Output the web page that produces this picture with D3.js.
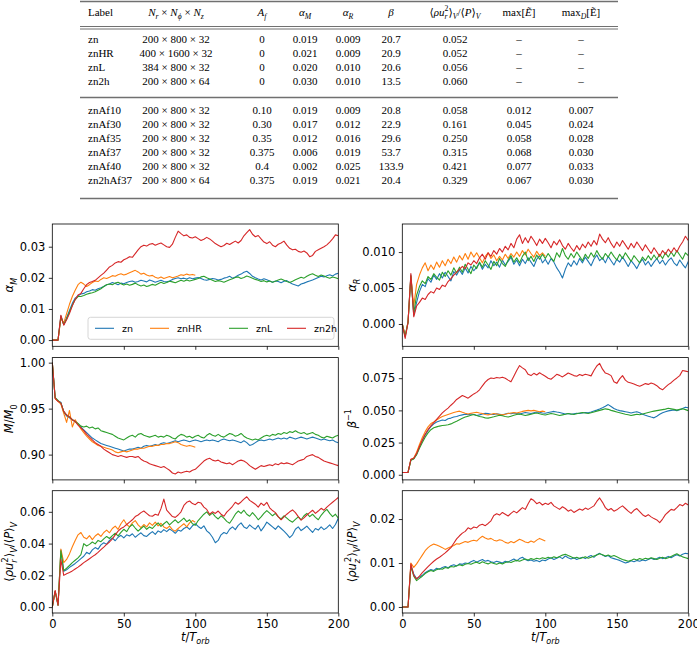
<!DOCTYPE html>
<html><head><meta charset="utf-8">
<script src="https://cdn.jsdelivr.net/npm/d3@7/dist/d3.min.js"></script>
<style>body{margin:0;background:#fff}svg{display:block}</style>
</head><body>
<svg id="fig" width="697" height="650"></svg>
<script>
// ---------------- DATA ----------------
const seriesNames = ["zn", "znHR", "znL", "zn2h"];
const timeFull = d3.range(0, 201, 2);   // t/T_orb sampling for zn, znL, zn2h
const timeHR = d3.range(0, 101, 2);     // t/T_orb sampling for znHR
const xTicks = [0, 50, 100, 150, 200];

// table
const tblLabel = ["zn","znHR","znL","zn2h","znAf10","znAf30","znAf35","znAf37","znAf40","zn2hAf37"];
const tblRes = ["200 × 800 × 32","400 × 1600 × 32","384 × 800 × 32","200 × 800 × 64","200 × 800 × 32","200 × 800 × 32","200 × 800 × 32","200 × 800 × 32","200 × 800 × 32","200 × 800 × 64"];
const tblAf = ["0","0","0","0","0.10","0.30","0.35","0.375","0.4","0.375"];
const tblAlphaM = ["0.019","0.021","0.020","0.030","0.019","0.017","0.012","0.006","0.002","0.019"];
const tblAlphaR = ["0.009","0.009","0.010","0.010","0.009","0.012","0.016","0.019","0.025","0.021"];
const tblBeta = ["20.7","20.9","20.6","13.5","20.8","22.9","29.6","53.7","133.9","20.4"];
const tblRur = ["0.052","0.052","0.056","0.060","0.058","0.161","0.250","0.315","0.421","0.329"];
const tblMaxE = ["–","–","–","–","0.012","0.045","0.058","0.068","0.077","0.067"];
const tblMaxDE = ["–","–","–","–","0.007","0.024","0.028","0.030","0.033","0.030"];

// alpha_M
const ticksAlphaM = [0, 0.01, 0.02, 0.03];
const alphaM_zn = [0,0,0,0.0078,0.0050,0.0072,0.0095,0.0118,0.0135,0.0142,
0.0148,0.0150,0.0155,0.0158,0.0162,0.0160,0.0165,0.0168,0.0172,0.0178,
0.0180,0.0185,0.0182,0.0178,0.0183,0.0181,0.0185,0.0188,0.0190,0.0186,
0.0188,0.0192,0.0190,0.0187,0.0193,0.0190,0.0186,0.0189,0.0192,0.0188,
0.0187,0.0190,0.0195,0.0198,0.0200,0.0197,0.0199,0.0196,0.0200,0.0197,
0.0199,0.0201,0.0198,0.0194,0.0192,0.0195,0.0198,0.0196,0.0193,0.0195,
0.0199,0.0201,0.0205,0.0199,0.0203,0.0208,0.0212,0.0218,0.0221,0.0214,
0.0205,0.0200,0.0196,0.0193,0.0197,0.0194,0.0190,0.0186,0.0190,0.0188,
0.0184,0.0189,0.0191,0.0185,0.0180,0.0177,0.0174,0.0180,0.0183,0.0187,
0.0190,0.0193,0.0197,0.0201,0.0205,0.0203,0.0207,0.0210,0.0206,0.0212,
0.0215];
const alphaM_znL = [0,0,0,0.0075,0.0050,0.0068,0.0090,0.0112,0.0130,0.0140,
0.0140,0.0143,0.0147,0.0150,0.0152,0.0155,0.0160,0.0165,0.0172,0.0178,
0.0180,0.0178,0.0183,0.0186,0.0181,0.0177,0.0180,0.0176,0.0179,0.0183,
0.0178,0.0174,0.0177,0.0172,0.0175,0.0179,0.0176,0.0181,0.0186,0.0182,
0.0185,0.0189,0.0187,0.0184,0.0188,0.0192,0.0189,0.0193,0.0190,0.0192,
0.0195,0.0198,0.0203,0.0205,0.0200,0.0196,0.0192,0.0188,0.0191,0.0189,
0.0186,0.0190,0.0194,0.0197,0.0201,0.0203,0.0198,0.0201,0.0206,0.0203,
0.0199,0.0195,0.0192,0.0188,0.0191,0.0187,0.0190,0.0186,0.0189,0.0193,
0.0196,0.0192,0.0188,0.0185,0.0189,0.0194,0.0198,0.0202,0.0199,0.0205,
0.0210,0.0213,0.0208,0.0204,0.0209,0.0206,0.0202,0.0199,0.0203,0.0200,
0.0197];
const alphaM_znHR = [0,0,0,0.0070,0.0055,0.0085,0.0115,0.0140,0.0160,0.0178,
0.0186,0.0180,0.0172,0.0178,0.0185,0.0190,0.0188,0.0195,0.0200,0.0198,
0.0202,0.0207,0.0205,0.0210,0.0213,0.0209,0.0212,0.0216,0.0220,0.0224,
0.0219,0.0212,0.0215,0.0209,0.0206,0.0208,0.0202,0.0199,0.0203,0.0198,
0.0201,0.0204,0.0200,0.0203,0.0206,0.0210,0.0208,0.0212,0.0209,0.0211,
0.0208];
const alphaM_zn2h = [0,0,0,0.0080,0.0048,0.0065,0.0085,0.0110,0.0130,0.0145,
0.0150,0.0165,0.0178,0.0185,0.0188,0.0192,0.0200,0.0208,0.0215,0.0225,
0.0235,0.0240,0.0248,0.0252,0.0250,0.0258,0.0262,0.0268,0.0266,0.0278,
0.0290,0.0300,0.0305,0.0302,0.0308,0.0310,0.0305,0.0309,0.0312,0.0306,
0.0300,0.0298,0.0308,0.0330,0.0350,0.0342,0.0335,0.0338,0.0330,0.0328,
0.0332,0.0326,0.0320,0.0324,0.0330,0.0325,0.0318,0.0310,0.0305,0.0300,
0.0304,0.0311,0.0307,0.0313,0.0318,0.0312,0.0320,0.0335,0.0345,0.0355,
0.0340,0.0332,0.0336,0.0325,0.0315,0.0310,0.0316,0.0305,0.0300,0.0308,
0.0312,0.0318,0.0305,0.0295,0.0290,0.0292,0.0285,0.0282,0.0286,0.0280,
0.0268,0.0272,0.0285,0.0290,0.0295,0.0300,0.0306,0.0315,0.0325,0.0338,
0.0335];

// alpha_R
const ticksAlphaR = [0, 0.005, 0.010];
const alphaR_zn = [0.0000,-0.0018,0.0003,0.0068,0.0012,0.0030,0.0045,0.0055,0.0052,0.0063,
0.0058,0.0068,0.0062,0.0070,0.0064,0.0072,0.0066,0.0060,0.0073,0.0068,
0.0075,0.0069,0.0078,0.0071,0.0080,0.0074,0.0079,0.0085,0.0076,0.0083,
0.0078,0.0088,0.0081,0.0086,0.0079,0.0089,0.0082,0.0087,0.0093,0.0083,
0.0089,0.0081,0.0090,0.0084,0.0092,0.0086,0.0080,0.0090,0.0095,0.0085,
0.0090,0.0083,0.0091,0.0086,0.0078,0.0072,0.0064,0.0076,0.0085,0.0080,
0.0088,0.0082,0.0091,0.0085,0.0093,0.0087,0.0081,0.0090,0.0096,0.0088,
0.0092,0.0085,0.0094,0.0088,0.0082,0.0090,0.0086,0.0093,0.0087,0.0080,
0.0088,0.0083,0.0077,0.0085,0.0090,0.0082,0.0087,0.0080,0.0086,0.0091,
0.0084,0.0089,0.0082,0.0088,0.0092,0.0085,0.0081,0.0089,0.0083,0.0078,
0.0087];
const alphaR_znL = [0.0000,-0.0017,0.0002,0.0066,0.0015,0.0040,0.0052,0.0060,0.0056,0.0066,
0.0062,0.0070,0.0065,0.0061,0.0072,0.0066,0.0074,0.0068,0.0078,0.0071,
0.0079,0.0072,0.0083,0.0076,0.0070,0.0082,0.0077,0.0086,0.0079,0.0088,
0.0082,0.0076,0.0087,0.0081,0.0091,0.0084,0.0080,0.0089,0.0095,0.0086,
0.0092,0.0085,0.0094,0.0100,0.0088,0.0094,0.0087,0.0096,0.0090,0.0097,
0.0091,0.0098,0.0092,0.0087,0.0099,0.0093,0.0105,0.0095,0.0090,0.0098,
0.0092,0.0100,0.0094,0.0088,0.0097,0.0091,0.0099,0.0093,0.0102,0.0095,
0.0090,0.0098,0.0093,0.0100,0.0094,0.0089,0.0097,0.0091,0.0099,0.0093,
0.0087,0.0095,0.0090,0.0085,0.0093,0.0088,0.0095,0.0089,0.0096,0.0090,
0.0097,0.0091,0.0099,0.0093,0.0100,0.0094,0.0102,0.0096,0.0090,0.0099,
0.0095];
const alphaR_znHR = [0.0000,-0.0016,0.0003,0.0067,0.0025,0.0055,0.0068,0.0078,0.0085,0.0074,
0.0082,0.0076,0.0086,0.0079,0.0088,0.0081,0.0090,0.0084,0.0093,0.0086,
0.0095,0.0089,0.0098,0.0090,0.0100,0.0093,0.0099,0.0092,0.0085,0.0094,
0.0099,0.0091,0.0096,0.0088,0.0094,0.0089,0.0097,0.0091,0.0098,0.0093,
0.0100,0.0094,0.0102,0.0096,0.0104,0.0098,0.0093,0.0101,0.0095,0.0099,
0.0094];
const alphaR_zn2h = [0.0000,-0.0020,0.0002,0.0070,0.0010,0.0025,0.0030,0.0036,0.0034,0.0041,
0.0045,0.0043,0.0050,0.0048,0.0054,0.0052,0.0059,0.0063,0.0068,0.0072,
0.0076,0.0080,0.0077,0.0085,0.0082,0.0088,0.0084,0.0092,0.0097,0.0090,
0.0099,0.0094,0.0102,0.0097,0.0105,0.0100,0.0108,0.0103,0.0112,0.0106,
0.0118,0.0124,0.0112,0.0120,0.0113,0.0122,0.0116,0.0109,0.0118,0.0112,
0.0119,0.0113,0.0106,0.0115,0.0110,0.0117,0.0109,0.0104,0.0112,0.0106,
0.0101,0.0109,0.0103,0.0111,0.0106,0.0114,0.0108,0.0116,0.0110,0.0125,
0.0118,0.0113,0.0120,0.0112,0.0106,0.0114,0.0108,0.0116,0.0110,0.0104,
0.0112,0.0106,0.0114,0.0108,0.0102,0.0110,0.0104,0.0098,0.0106,0.0100,
0.0094,0.0102,0.0097,0.0104,0.0099,0.0106,0.0100,0.0108,0.0114,0.0122,
0.0116];

// M/M0
const ticksMass = [0.90, 0.95, 1.00];
const mass_zn = [1.000,0.962,0.958,0.957,0.946,0.942,0.940,0.938,0.936,0.933,
0.930,0.927,0.924,0.921,0.918,0.916,0.914,0.912,0.911,0.910,
0.909,0.908,0.907,0.906,0.905,0.904,0.905,0.906,0.906,0.907,
0.908,0.907,0.909,0.910,0.909,0.910,0.911,0.910,0.912,0.913,
0.912,0.913,0.914,0.915,0.914,0.915,0.916,0.915,0.914,0.915,
0.916,0.915,0.914,0.915,0.916,0.915,0.916,0.915,0.914,0.916,
0.917,0.916,0.915,0.916,0.915,0.914,0.913,0.915,0.913,0.910,
0.911,0.913,0.915,0.916,0.915,0.916,0.917,0.916,0.917,0.918,
0.917,0.918,0.917,0.919,0.918,0.917,0.918,0.919,0.918,0.917,
0.918,0.919,0.918,0.917,0.916,0.917,0.916,0.915,0.916,0.914,
0.913];
const mass_znL = [1.000,0.962,0.959,0.956,0.947,0.943,0.941,0.938,0.936,0.934,
0.931,0.930,0.931,0.929,0.930,0.928,0.929,0.926,0.925,0.924,
0.923,0.922,0.920,0.918,0.917,0.916,0.918,0.920,0.921,0.919,
0.922,0.923,0.921,0.920,0.919,0.920,0.921,0.919,0.920,0.919,
0.921,0.920,0.918,0.917,0.920,0.922,0.921,0.919,0.920,0.918,
0.920,0.921,0.919,0.918,0.921,0.923,0.921,0.920,0.922,0.920,
0.919,0.921,0.923,0.922,0.920,0.921,0.923,0.920,0.918,0.917,
0.916,0.917,0.916,0.918,0.920,0.921,0.920,0.922,0.921,0.923,
0.922,0.924,0.923,0.925,0.924,0.926,0.924,0.923,0.924,0.922,
0.923,0.924,0.922,0.921,0.919,0.918,0.920,0.919,0.918,0.920,
0.921];
const mass_znHR = [1.000,0.961,0.958,0.955,0.945,0.935,0.948,0.930,0.938,0.933,
0.928,0.924,0.920,0.917,0.914,0.912,0.910,0.909,0.908,0.907,
0.906,0.905,0.903,0.902,0.903,0.904,0.903,0.904,0.905,0.906,
0.906,0.907,0.907,0.908,0.909,0.909,0.910,0.910,0.911,0.911,
0.912,0.912,0.913,0.914,0.913,0.911,0.910,0.909,0.910,0.909,
0.908];
const mass_zn2h = [1.000,0.961,0.958,0.956,0.947,0.943,0.941,0.938,0.936,0.932,
0.929,0.926,0.922,0.919,0.916,0.913,0.911,0.909,0.906,0.904,
0.902,0.900,0.899,0.898,0.899,0.898,0.897,0.898,0.898,0.897,
0.898,0.895,0.893,0.892,0.890,0.889,0.888,0.887,0.886,0.887,
0.885,0.883,0.880,0.879,0.881,0.880,0.881,0.882,0.881,0.883,
0.884,0.887,0.890,0.893,0.895,0.896,0.894,0.893,0.894,0.892,
0.891,0.890,0.891,0.889,0.891,0.893,0.894,0.893,0.891,0.888,
0.886,0.884,0.886,0.888,0.887,0.888,0.889,0.888,0.890,0.889,
0.891,0.890,0.891,0.890,0.889,0.891,0.893,0.894,0.895,0.898,
0.899,0.900,0.898,0.897,0.895,0.893,0.892,0.891,0.890,0.889,
0.888];

// beta^-1
const ticksBetaInv = [0, 0.025, 0.050, 0.075];
const betaInv_zn = [0.0018,0.0018,0.0018,0.0115,0.0125,0.0160,0.0215,0.0265,0.0310,0.0345,
0.0375,0.0395,0.0410,0.0418,0.0425,0.0422,0.0435,0.0440,0.0448,0.0452,
0.0460,0.0465,0.0470,0.0466,0.0472,0.0468,0.0460,0.0465,0.0472,0.0478,
0.0475,0.0470,0.0468,0.0474,0.0470,0.0465,0.0472,0.0478,0.0474,0.0480,
0.0476,0.0471,0.0478,0.0484,0.0480,0.0476,0.0482,0.0488,0.0485,0.0480,
0.0478,0.0483,0.0488,0.0492,0.0487,0.0483,0.0478,0.0472,0.0476,0.0470,
0.0474,0.0478,0.0476,0.0480,0.0484,0.0482,0.0488,0.0495,0.0502,0.0510,
0.0520,0.0532,0.0545,0.0530,0.0515,0.0505,0.0498,0.0494,0.0490,0.0486,
0.0480,0.0486,0.0490,0.0482,0.0470,0.0462,0.0455,0.0448,0.0442,0.0455,
0.0470,0.0482,0.0490,0.0496,0.0500,0.0504,0.0498,0.0505,0.0515,0.0525,
0.0520];
const betaInv_znL = [0.0018,0.0018,0.0018,0.0112,0.0122,0.0155,0.0205,0.0250,0.0292,0.0325,
0.0350,0.0365,0.0372,0.0378,0.0382,0.0385,0.0388,0.0395,0.0405,0.0415,
0.0428,0.0438,0.0448,0.0455,0.0462,0.0468,0.0460,0.0452,0.0448,0.0442,
0.0440,0.0445,0.0450,0.0456,0.0462,0.0458,0.0452,0.0448,0.0455,0.0462,
0.0468,0.0472,0.0466,0.0460,0.0465,0.0470,0.0476,0.0480,0.0474,0.0468,
0.0464,0.0470,0.0476,0.0472,0.0466,0.0460,0.0465,0.0470,0.0476,0.0472,
0.0468,0.0474,0.0480,0.0484,0.0480,0.0476,0.0482,0.0488,0.0494,0.0500,
0.0506,0.0512,0.0508,0.0500,0.0494,0.0488,0.0482,0.0476,0.0470,0.0466,
0.0460,0.0465,0.0470,0.0466,0.0472,0.0478,0.0484,0.0490,0.0494,0.0498,
0.0502,0.0506,0.0510,0.0516,0.0512,0.0508,0.0502,0.0508,0.0512,0.0506,
0.0498];
const betaInv_znHR = [0.0018,0.0018,0.0018,0.0118,0.0130,0.0175,0.0235,0.0290,0.0335,0.0372,
0.0398,0.0410,0.0425,0.0440,0.0452,0.0460,0.0468,0.0476,0.0484,0.0490,
0.0494,0.0485,0.0478,0.0472,0.0478,0.0482,0.0486,0.0480,0.0476,0.0468,
0.0465,0.0470,0.0476,0.0472,0.0468,0.0465,0.0470,0.0476,0.0480,0.0484,
0.0480,0.0486,0.0492,0.0496,0.0500,0.0496,0.0500,0.0495,0.0490,0.0494,
0.0490];
const betaInv_zn2h = [0.0018,0.0018,0.0018,0.0120,0.0128,0.0165,0.0220,0.0270,0.0315,0.0350,
0.0380,0.0405,0.0430,0.0455,0.0480,0.0500,0.0518,0.0540,0.0560,0.0585,
0.0600,0.0615,0.0605,0.0595,0.0612,0.0628,0.0640,0.0660,0.0690,0.0720,
0.0740,0.0752,0.0748,0.0756,0.0752,0.0758,0.0750,0.0735,0.0722,0.0765,
0.0810,0.0848,0.0830,0.0815,0.0780,0.0770,0.0788,0.0775,0.0792,0.0778,
0.0765,0.0750,0.0742,0.0760,0.0780,0.0772,0.0760,0.0775,0.0790,0.0780,
0.0770,0.0765,0.0778,0.0770,0.0780,0.0775,0.0768,0.0810,0.0845,0.0865,
0.0820,0.0790,0.0782,0.0770,0.0722,0.0710,0.0745,0.0770,0.0735,0.0718,
0.0712,0.0705,0.0695,0.0688,0.0698,0.0708,0.0702,0.0712,0.0705,0.0692,
0.0672,0.0660,0.0680,0.0700,0.0715,0.0735,0.0752,0.0770,0.0810,0.0805,
0.0800];

// <rho u_r^2>_V / <P>_V
const ticksRur = [0, 0.02, 0.04, 0.06];
const rur_zn = [0.0000,0.0100,0.0012,0.0360,0.0225,0.0235,0.0250,0.0262,0.0275,0.0290,
0.0305,0.0320,0.0345,0.0335,0.0360,0.0375,0.0365,0.0392,0.0405,0.0395,
0.0420,0.0435,0.0418,0.0440,0.0452,0.0436,0.0455,0.0448,0.0462,0.0440,
0.0455,0.0468,0.0450,0.0445,0.0462,0.0475,0.0458,0.0480,0.0470,0.0488,
0.0475,0.0492,0.0480,0.0465,0.0485,0.0478,0.0495,0.0505,0.0490,0.0512,
0.0525,0.0508,0.0495,0.0512,0.0480,0.0465,0.0440,0.0405,0.0420,0.0455,
0.0470,0.0462,0.0490,0.0505,0.0488,0.0515,0.0530,0.0505,0.0495,0.0518,
0.0502,0.0490,0.0515,0.0480,0.0505,0.0535,0.0520,0.0505,0.0490,0.0512,
0.0495,0.0478,0.0460,0.0438,0.0455,0.0490,0.0505,0.0482,0.0495,0.0510,
0.0490,0.0470,0.0495,0.0485,0.0505,0.0488,0.0500,0.0518,0.0495,0.0520,
0.0560];
const rur_znL = [0.0000,0.0100,0.0012,0.0355,0.0230,0.0245,0.0262,0.0280,0.0295,0.0310,
0.0330,0.0400,0.0385,0.0395,0.0410,0.0398,0.0420,0.0412,0.0430,0.0445,
0.0432,0.0450,0.0465,0.0448,0.0470,0.0490,0.0475,0.0505,0.0520,0.0498,
0.0478,0.0495,0.0510,0.0490,0.0505,0.0495,0.0515,0.0530,0.0508,0.0525,
0.0540,0.0518,0.0535,0.0550,0.0530,0.0545,0.0560,0.0538,0.0550,0.0525,
0.0515,0.0545,0.0565,0.0585,0.0600,0.0578,0.0592,0.0570,0.0555,0.0575,
0.0560,0.0540,0.0528,0.0555,0.0585,0.0605,0.0590,0.0610,0.0585,0.0572,
0.0595,0.0575,0.0550,0.0568,0.0590,0.0608,0.0592,0.0575,0.0590,0.0568,
0.0555,0.0575,0.0560,0.0545,0.0535,0.0552,0.0568,0.0550,0.0575,0.0590,
0.0570,0.0585,0.0565,0.0550,0.0578,0.0600,0.0615,0.0590,0.0570,0.0585,
0.0560];
const rur_znHR = [0.0000,0.0100,0.0012,0.0365,0.0280,0.0300,0.0335,0.0380,0.0420,0.0455,
0.0470,0.0440,0.0430,0.0450,0.0425,0.0448,0.0462,0.0445,0.0470,0.0485,
0.0468,0.0495,0.0510,0.0490,0.0525,0.0550,0.0520,0.0505,0.0530,0.0545,
0.0518,0.0500,0.0520,0.0505,0.0530,0.0515,0.0535,0.0512,0.0528,0.0505,
0.0495,0.0510,0.0488,0.0478,0.0495,0.0510,0.0525,0.0505,0.0530,0.0545,
0.0535];
const rur_zn2h = [0.0000,0.0105,0.0012,0.0300,0.0200,0.0210,0.0218,0.0228,0.0240,0.0252,
0.0265,0.0280,0.0292,0.0305,0.0318,0.0330,0.0345,0.0362,0.0378,0.0395,
0.0410,0.0430,0.0455,0.0478,0.0495,0.0505,0.0520,0.0535,0.0550,0.0570,
0.0580,0.0595,0.0605,0.0590,0.0575,0.0572,0.0585,0.0578,0.0620,0.0680,
0.0610,0.0590,0.0570,0.0565,0.0580,0.0600,0.0640,0.0660,0.0668,0.0652,
0.0645,0.0660,0.0655,0.0630,0.0615,0.0585,0.0600,0.0590,0.0605,0.0585,
0.0572,0.0598,0.0615,0.0635,0.0660,0.0648,0.0662,0.0680,0.0695,0.0672,
0.0660,0.0648,0.0630,0.0655,0.0640,0.0660,0.0625,0.0608,0.0595,0.0570,
0.0550,0.0568,0.0585,0.0600,0.0612,0.0595,0.0570,0.0548,0.0562,0.0580,
0.0595,0.0610,0.0590,0.0605,0.0622,0.0610,0.0630,0.0645,0.0660,0.0675,
0.0690];

// <rho u_z^2>_V / <P>_V
const ticksRuz = [0, 0.01, 0.02];
const ruz_zn = [0,0,0,0.0095,0.0075,0.0064,0.0068,0.0072,0.0078,0.0082,
0.0085,0.0083,0.0088,0.0086,0.0090,0.0092,0.0089,0.0094,0.0096,0.0093,
0.0098,0.0097,0.0100,0.0099,0.0103,0.0106,0.0102,0.0105,0.0108,0.0104,
0.0106,0.0103,0.0101,0.0104,0.0102,0.0100,0.0104,0.0102,0.0106,0.0109,
0.0105,0.0110,0.0113,0.0108,0.0105,0.0107,0.0104,0.0106,0.0103,0.0107,
0.0105,0.0109,0.0112,0.0108,0.0111,0.0114,0.0110,0.0116,0.0112,0.0109,
0.0112,0.0108,0.0111,0.0113,0.0110,0.0114,0.0117,0.0113,0.0119,0.0122,
0.0118,0.0115,0.0117,0.0112,0.0110,0.0108,0.0106,0.0103,0.0100,0.0102,
0.0105,0.0103,0.0106,0.0104,0.0107,0.0105,0.0108,0.0111,0.0108,0.0110,
0.0113,0.0110,0.0112,0.0115,0.0112,0.0116,0.0119,0.0116,0.0120,0.0122,
0.0121];
const ruz_znL = [0,0,0,0.0092,0.0070,0.0060,0.0065,0.0070,0.0076,0.0080,
0.0083,0.0081,0.0085,0.0087,0.0086,0.0090,0.0088,0.0092,0.0091,0.0094,
0.0096,0.0094,0.0097,0.0099,0.0097,0.0100,0.0102,0.0099,0.0103,0.0100,
0.0098,0.0101,0.0099,0.0097,0.0100,0.0098,0.0101,0.0103,0.0101,0.0104,
0.0106,0.0104,0.0107,0.0109,0.0107,0.0110,0.0108,0.0111,0.0109,0.0112,
0.0110,0.0113,0.0111,0.0114,0.0112,0.0115,0.0118,0.0120,0.0117,0.0114,
0.0111,0.0113,0.0110,0.0112,0.0114,0.0111,0.0113,0.0116,0.0118,0.0121,
0.0119,0.0116,0.0118,0.0115,0.0117,0.0114,0.0111,0.0108,0.0106,0.0104,
0.0106,0.0109,0.0107,0.0110,0.0108,0.0111,0.0109,0.0112,0.0110,0.0108,
0.0111,0.0113,0.0110,0.0112,0.0115,0.0118,0.0121,0.0117,0.0114,0.0112,
0.0110];
const ruz_znHR = [0,0,0,0.0100,0.0090,0.0098,0.0108,0.0118,0.0128,0.0135,
0.0140,0.0143,0.0141,0.0138,0.0135,0.0131,0.0134,0.0137,0.0140,0.0144,
0.0143,0.0146,0.0149,0.0147,0.0150,0.0152,0.0150,0.0156,0.0161,0.0157,
0.0154,0.0156,0.0152,0.0150,0.0153,0.0151,0.0147,0.0145,0.0149,0.0146,
0.0150,0.0154,0.0151,0.0148,0.0146,0.0150,0.0147,0.0152,0.0156,0.0153,
0.0150];
const ruz_zn2h = [0,0,0,0.0098,0.0072,0.0064,0.0070,0.0078,0.0085,0.0092,
0.0098,0.0104,0.0109,0.0113,0.0118,0.0123,0.0129,0.0135,0.0145,0.0155,
0.0162,0.0168,0.0172,0.0180,0.0177,0.0182,0.0180,0.0186,0.0188,0.0185,
0.0190,0.0196,0.0208,0.0212,0.0209,0.0215,0.0211,0.0207,0.0213,0.0218,
0.0214,0.0220,0.0226,0.0222,0.0235,0.0246,0.0242,0.0235,0.0238,0.0232,
0.0236,0.0233,0.0238,0.0230,0.0226,0.0222,0.0228,0.0224,0.0218,0.0221,
0.0215,0.0219,0.0223,0.0220,0.0225,0.0222,0.0226,0.0230,0.0240,0.0248,
0.0238,0.0226,0.0220,0.0224,0.0218,0.0221,0.0226,0.0230,0.0224,0.0218,
0.0213,0.0220,0.0224,0.0217,0.0210,0.0206,0.0210,0.0205,0.0201,0.0198,
0.0192,0.0200,0.0210,0.0216,0.0222,0.0220,0.0226,0.0233,0.0230,0.0236,
0.0232];

// ---------------- DRAWING ----------------
const svg = d3.select("#fig");
const SANS = "'DejaVu Sans', sans-serif";
const SERIF = "'Liberation Serif', 'DejaVu Serif', serif";
const colors = { zn: "#1f77b4", znHR: "#ff7f0e", znL: "#2ca02c", zn2h: "#d62728" };

function rich(sel, parts, size) {
  let cur = 0;
  parts.forEach(p => {
    const o = p[1] || {};
    const target = o.s === "sub" ? size * 0.28 : o.s === "sup" ? -size * 0.42 : 0;
    const ts = sel.append("tspan").text(p[0]).attr("dy", target - cur);
    if (o.s) ts.attr("font-size", size * 0.7);
    if (o.i) ts.attr("font-style", "italic");
    if (o.dx) ts.attr("dx", o.dx);
    cur = target;
  });
  return sel;
}

// ----- table -----
const tg = svg.append("g").attr("font-family", SERIF).attr("font-size", 11).attr("fill", "#000");
const tLeft = 80, tRight = 618;
const colX = [88, 176, 262, 305, 348, 391, 455, 519, 581];
const headers = [
  [["Label"]],
  [["N",{i:1}],["r",{i:1,s:"sub"}],[" × "],["N",{i:1}],["ϕ",{i:1,s:"sub"}],[" × "],["N",{i:1}],["z",{i:1,s:"sub"}]],
  [["A",{i:1}],["f",{i:1,s:"sub"}]],
  [["α",{i:1}],["M",{i:1,s:"sub"}]],
  [["α",{i:1}],["R",{i:1,s:"sub"}]],
  [["β",{i:1}]],
  [["⟨"],["ρ",{i:1}],["u",{i:1}],["r",{i:1,s:"sub"}],["2",{s:"sup",dx:-3}],["⟩"],["V",{i:1,s:"sub"}],["/⟨"],["P",{i:1}],["⟩"],["V",{i:1,s:"sub"}]],
  [["max["],["Ẽ",{i:1}],["]"]],
  [["max"],["D",{i:1,s:"sub"}],["[Ẽ]"]]
];
headers.forEach((h, j) => {
  const t = tg.append("text").attr("x", colX[j]).attr("y", 16)
    .attr("text-anchor", j === 0 ? "start" : "middle");
  rich(t, h, 11);
});
const rule = (y, w) => tg.append("line").attr("x1", tLeft).attr("x2", tRight)
  .attr("y1", y).attr("y2", y).attr("stroke", "#707070").attr("stroke-width", w);
rule(1.5, 1.6); rule(26.5, 1); rule(29, 1); rule(97.5, 1.4); rule(198.5, 1.6);
const cols = [tblLabel, tblRes, tblAf, tblAlphaM, tblAlphaR, tblBeta, tblRur, tblMaxE, tblMaxDE];
const rowY = [43, 57, 71, 85, 114, 128, 142, 156, 170, 184];
tblLabel.forEach((_, r) => {
  cols.forEach((c, j) => {
    tg.append("text").attr("x", colX[j]).attr("y", rowY[r])
      .attr("text-anchor", j === 0 ? "start" : "middle").text(c[r]);
  });
});

// ----- panels -----
const colLeft = [52.3, 402.3], pW = 286;
const rowTop = [224, 357.6, 490.7], pH = 122.3;
const x = d3.scaleLinear().domain([0, 200]).range([0, pW]);

const panels = [
  { c:0, r:0, dom:[-0.002, 0.0373], ticks:ticksAlphaM, fmt:".2f",
    data:{zn:alphaM_zn, znHR:alphaM_znHR, znL:alphaM_znL, zn2h:alphaM_zn2h},
    label:[["α",{i:1}],["M",{i:1,s:"sub"}]], legend:true },
  { c:1, r:0, dom:[-0.0031, 0.0139], ticks:ticksAlphaR, fmt:".3f",
    data:{zn:alphaR_zn, znHR:alphaR_znHR, znL:alphaR_znL, zn2h:alphaR_zn2h},
    label:[["α",{i:1}],["R",{i:1,s:"sub"}]] },
  { c:0, r:1, dom:[0.8725, 1.0055], ticks:ticksMass, fmt:".2f",
    data:{zn:mass_zn, znHR:mass_znHR, znL:mass_znL, zn2h:mass_zn2h},
    label:[["M",{i:1}],["/"],["M",{i:1}],["0",{s:"sub"}]] },
  { c:1, r:1, dom:[-0.004, 0.091], ticks:ticksBetaInv, fmt:".3f",
    data:{zn:betaInv_zn, znHR:betaInv_znHR, znL:betaInv_znL, zn2h:betaInv_zn2h},
    label:[["β",{i:1}],["−1",{s:"sup"}]] },
  { c:0, r:2, dom:[-0.0037, 0.0733], ticks:ticksRur, fmt:".2f",
    data:{zn:rur_zn, znHR:rur_znHR, znL:rur_znL, zn2h:rur_zn2h},
    label:[["⟨"],["ρu",{i:1}],["r",{i:1,s:"sub"}],["2",{s:"sup",dx:-3}],["⟩"],["V",{i:1,s:"sub"}],["/⟨"],["P",{i:1}],["⟩"],["V",{i:1,s:"sub"}]], xlab:true },
  { c:1, r:2, dom:[-0.00137, 0.02645], ticks:ticksRuz, fmt:".2f",
    data:{zn:ruz_zn, znHR:ruz_znHR, znL:ruz_znL, zn2h:ruz_zn2h},
    label:[["⟨"],["ρu",{i:1}],["z",{i:1,s:"sub"}],["2",{s:"sup",dx:-3}],["⟩"],["V",{i:1,s:"sub"}],["/⟨"],["P",{i:1}],["⟩"],["V",{i:1,s:"sub"}]], xlab:true }
];

panels.forEach((p, k) => {
  const g = svg.append("g").attr("transform", `translate(${colLeft[p.c]},${rowTop[p.r]})`);
  const y = d3.scaleLinear().domain(p.dom).range([pH, 0]);
  const clipId = "clip" + k;
  g.append("clipPath").attr("id", clipId).append("rect").attr("width", pW).attr("height", pH);

  const lines = g.append("g").attr("clip-path", `url(#${clipId})`);
  seriesNames.forEach(name => {
    const vals = p.data[name];
    const ts = name === "znHR" ? timeHR : timeFull;
    const pts = vals.map((v, i) => [ts[i], v]);
    lines.append("path").datum(pts)
      .attr("fill", "none").attr("stroke", colors[name]).attr("stroke-width", 1.1)
      .attr("stroke-linejoin", "round")
      .attr("d", d3.line().x(d => x(d[0])).y(d => y(d[1])));
  });

  // axes
  const ya = g.append("g").call(d3.axisLeft(y).tickValues(p.ticks).tickFormat(d3.format(p.fmt)).tickSize(3.5).tickPadding(3.5));
  const xa = g.append("g").attr("transform", `translate(0,${pH})`)
    .call(d3.axisBottom(x).tickValues(xTicks).tickSize(3.5).tickPadding(3.5).tickFormat(p.xlab ? d3.format("d") : () => ""));
  [ya, xa].forEach(a => {
    a.select(".domain").remove();
    a.selectAll(".tick line").attr("stroke", "#000").attr("stroke-width", 0.8);
    a.selectAll(".tick text").attr("font-family", SANS).attr("font-size", 11.5).attr("fill", "#000");
  });
  g.append("rect").attr("width", pW).attr("height", pH).attr("fill", "none")
    .attr("stroke", "#000").attr("stroke-width", 0.8);

  // y label
  const lx = p.c === 0 ? -39 : -46;
  const yl = g.append("text").attr("transform", `translate(${lx},${pH/2}) rotate(-90)`)
    .attr("text-anchor", "middle").attr("font-family", SANS).attr("font-size", 11.5).attr("fill", "#000");
  rich(yl, p.label, 11.5);

  if (p.xlab) {
    const xl = g.append("text").attr("x", pW/2).attr("y", pH + 28)
      .attr("text-anchor", "middle").attr("font-family", SANS).attr("font-size", 11.5).attr("fill", "#000");
    rich(xl, [["t",{i:1}],["/"],["T",{i:1}],["orb",{i:1,s:"sub"}]], 11.5);
  }

  if (p.legend) {
    const lg = g.append("g").attr("transform", `translate(${88 - colLeft[0]},${pH - 29})`);
    lg.append("rect").attr("width", 246).attr("height", 22).attr("rx", 2.5)
      .attr("fill", "#fff").attr("fill-opacity", 0.8).attr("stroke", "#cccccc").attr("stroke-width", 0.8);
    const ex = [7, 62, 141, 199];
    seriesNames.forEach((name, i) => {
      lg.append("line").attr("x1", ex[i]).attr("x2", ex[i] + 19).attr("y1", 11).attr("y2", 11)
        .attr("stroke", colors[name]).attr("stroke-width", 1.1);
      lg.append("text").attr("x", ex[i] + 27).attr("y", 14.5).attr("font-family", SANS)
        .attr("font-size", 9.5).attr("fill", "#000").text(name);
    });
  }
});
</script>
</body></html>
